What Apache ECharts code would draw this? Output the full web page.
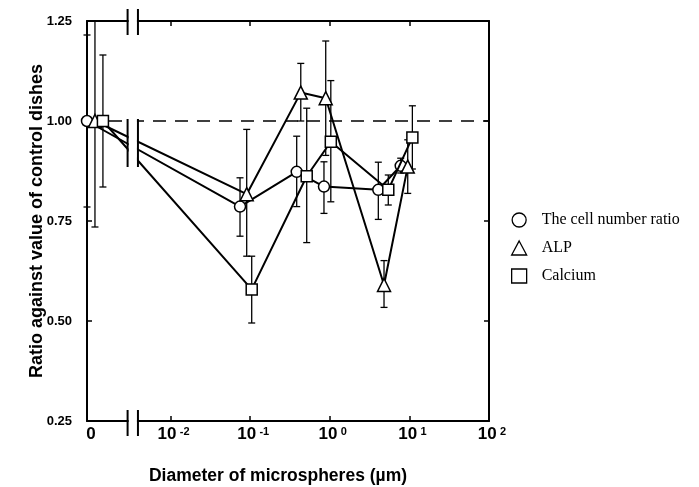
<!DOCTYPE html>
<html>
<head>
<meta charset="utf-8">
<script src="https://cdn.jsdelivr.net/npm/echarts@6/dist/echarts.min.js"></script>
<style>
html, body { margin: 0; padding: 0; background: #fff; }
#chart { width: 699px; height: 487px; }
</style>
</head>
<body>
<div id="chart"></div>
<script>
// Series names (legend order)
const seriesNames = ['The cell number ratio', 'ALP', 'Calcium'];

// Microsphere diameters (µm) at which each group is plotted; control (0 µm) is handled separately
const cellDiam = [0.0745, 0.384, 0.845, 4.07, 7.78];
const alpDiam  = [0.0904, 0.432, 0.889, 4.80, 9.53];
const caDiam   = [0.1045, 0.513, 1.03, 5.43, 10.9];

// Ratios against control dishes (first value = control), with error-bar limits
const cellMean = [1.00, 0.786, 0.873, 0.836, 0.828, 0.888];
const cellLow  = [0.785, 0.712, 0.786, 0.769, 0.754, 0.870];
const cellHigh = [1.215, 0.858, 0.962, 0.898, 0.897, 0.907];

const alpMean = [1.00, 0.817, 1.071, 1.057, 0.590, 0.886];
const alpLow  = [0.735, 0.662, 1.000, 0.914, 0.534, 0.819];
const alpHigh = [1.250, 0.979, 1.144, 1.200, 0.651, 0.953];

const caMean = [1.00, 0.579, 0.862, 0.948, 0.828, 0.959];
const caLow  = [0.835, 0.495, 0.696, 0.798, 0.790, 0.880];
const caHigh = [1.165, 0.662, 1.032, 1.101, 0.865, 1.038];

// Axis tick labels
const yTicks = [0.25, 0.50, 0.75, 1.00, 1.25];
const xExponents = [-2, -1, 0, 1, 2];
const CONTROL_POS = -3;          // axis position labelled "0"
const BREAK_LEFT = -2.54;        // axis break (log units)
const BREAK_RIGHT = -2.41;

const sansFont = '"Liberation Sans", Arial, sans-serif';
const serifFont = '"Liberation Serif", "Times New Roman", serif';

function buildPoints(diams, mean, ctrlOffset) {
  const pts = [[CONTROL_POS + ctrlOffset, mean[0]]];
  diams.forEach((d, i) => pts.push([Math.log10(d), mean[i + 1]]));
  return pts;
}
function buildBars(diams, low, high, ctrlOffset) {
  const bars = [[CONTROL_POS + ctrlOffset, low[0], high[0]]];
  diams.forEach((d, i) => bars.push([Math.log10(d), low[i + 1], high[i + 1]]));
  return bars;
}

const groups = [
  { name: seriesNames[0], symbol: 'circle',   size: 11, off: -0.05, diam: cellDiam, mean: cellMean, low: cellLow, high: cellHigh },
  { name: seriesNames[1], symbol: 'triangle', size: 13, off:  0.05, diam: alpDiam,  mean: alpMean,  low: alpLow,  high: alpHigh },
  { name: seriesNames[2], symbol: 'rect',     size: 11, off:  0.15, diam: caDiam,   mean: caMean,   low: caLow,   high: caHigh }
];

function errorBarItem(params, api) {
  const x = api.value(0);
  const pLo = api.coord([x, api.value(1)]);
  const pHi = api.coord([x, api.value(2)]);
  const half = 3.5;
  const style = { stroke: '#000', lineWidth: 1.3, fill: null };
  return {
    type: 'group',
    children: [
      { type: 'line', shape: { x1: pLo[0], y1: pLo[1], x2: pHi[0], y2: pHi[1] }, style },
      { type: 'line', shape: { x1: pLo[0] - half, y1: pLo[1], x2: pLo[0] + half, y2: pLo[1] }, style },
      { type: 'line', shape: { x1: pHi[0] - half, y1: pHi[1], x2: pHi[0] + half, y2: pHi[1] }, style }
    ]
  };
}

// Axis break: white gap across the plot plus the "||" marks on axes and curves
function breakItem(params, api) {
  const xa = api.coord([BREAK_LEFT, 1])[0];
  const xb = api.coord([BREAK_RIGHT, 1])[0];
  const yTop = api.coord([0, 1.25])[1];
  const yBot = api.coord([0, 0.25])[1];
  const yHi = api.coord([0, 1.005])[1];
  const yLo = api.coord([0, 0.885])[1];
  const s = { stroke: '#000', lineWidth: 2, fill: null };
  const mk = (x, y1, y2) => ({ type: 'line', shape: { x1: x, y1: y1, x2: x, y2: y2 }, style: s });
  return {
    type: 'group',
    children: [
      { type: 'rect', shape: { x: xa + 1, y: yTop - 3, width: xb - xa - 2, height: yBot - yTop + 6 },
        style: { fill: '#fff', stroke: null } },
      mk(xa, yTop - 12, yTop + 14), mk(xb, yTop - 12, yTop + 14),
      mk(xa, yBot - 11, yBot + 15), mk(xb, yBot - 11, yBot + 15),
      mk(xa, yHi, yLo), mk(xb, yHi, yLo)
    ]
  };
}

const series = [];
groups.forEach((g, i) => {
  series.push({
    name: 'err' + i,
    type: 'custom',
    renderItem: errorBarItem,
    data: buildBars(g.diam, g.low, g.high, g.off),
    encode: { x: 0, y: [1, 2] },
    z: 3,
    silent: true
  });
});
groups.forEach((g, i) => {
  const s = {
    name: g.name,
    type: 'line',
    data: buildPoints(g.diam, g.mean, g.off),
    symbol: g.symbol,
    symbolSize: g.size,
    showAllSymbol: true,
    clip: false,
    lineStyle: { color: '#000', width: 2 },
    itemStyle: { color: '#fff', borderColor: '#000', borderWidth: 1.5 },
    emphasis: { disabled: true },
    z: 5 + i
  };
  if (i === 0) {
    s.markLine = {
      silent: true,
      symbol: 'none',
      label: { show: false },
      lineStyle: { color: '#000', width: 1.5, type: [13, 9] },
      data: [{ yAxis: 1.0 }]
    };
  }
  series.push(s);
});
series.push({
  name: 'axisBreak',
  type: 'custom',
  renderItem: breakItem,
  data: [[0, 1]],
  clip: false,
  silent: true,
  z: 20
});

const chart = echarts.init(document.getElementById('chart'), null, { renderer: 'canvas' });

const axisLineStyle = { color: '#000', width: 2 };
const xCommon = {
  type: 'value',
  min: -3.05,
  max: 2,
  splitLine: { show: false },
  axisLine: { show: true, onZero: false, lineStyle: axisLineStyle }
};

chart.setOption({
  animation: false,
  backgroundColor: '#fff',
  grid: { left: 87, right: 210, top: 21, bottom: 66, containLabel: false },
  xAxis: [
    Object.assign({}, xCommon, {
      position: 'bottom',
      axisTick: { show: true, inside: true, length: 5, customValues: xExponents, lineStyle: { color: '#000', width: 1.5 } },
      axisLabel: {
        customValues: [CONTROL_POS].concat(xExponents),
        margin: 5,
        formatter: v => (Math.abs(v - CONTROL_POS) < 1e-9 ? '{n|0}' : '{sp|}{n|10} {e|' + v + '}'),
        rich: {
          sp: { width: 6 },
          n: { fontFamily: sansFont, fontWeight: 'bold', fontSize: 17, color: '#000' },
          e: { fontFamily: sansFont, fontWeight: 'bold', fontSize: 11, color: '#000', verticalAlign: 'top' }
        }
      }
    }),
    Object.assign({}, xCommon, {
      position: 'top',
      axisTick: { show: true, inside: true, length: 5, customValues: xExponents, lineStyle: { color: '#000', width: 1.5 } },
      axisLabel: { show: false }
    })
  ],
  yAxis: [
    {
      type: 'value', position: 'left', min: yTicks[0], max: yTicks[yTicks.length - 1], interval: 0.25,
      splitLine: { show: false },
      axisLine: { show: true, onZero: false, lineStyle: axisLineStyle },
      axisTick: { show: true, inside: true, length: 5, lineStyle: { color: '#000', width: 1.5 } },
      axisLabel: {
        margin: 15,
        formatter: v => v.toFixed(2),
        fontFamily: sansFont, fontWeight: 'bold', fontSize: 13, color: '#000'
      }
    },
    {
      type: 'value', position: 'right', min: yTicks[0], max: yTicks[yTicks.length - 1], interval: 0.25,
      splitLine: { show: false },
      axisLine: { show: true, onZero: false, lineStyle: axisLineStyle },
      axisTick: { show: true, inside: true, length: 5, lineStyle: { color: '#000', width: 1.5 } },
      axisLabel: { show: false }
    }
  ],
  legend: {
    orient: 'vertical',
    left: 506,
    top: 207,
    itemWidth: 15,
    itemHeight: 14,
    itemGap: 12,
    selectedMode: false,
    itemStyle: { color: '#fff', borderColor: '#000', borderWidth: 1.3 },
    textStyle: { fontFamily: serifFont, fontSize: 16, color: '#000', lineHeight: 14, padding: [0, 0, 0, 10] },
    data: [
      { name: seriesNames[0], icon: 'circle' },
      { name: seriesNames[1], icon: 'triangle' },
      { name: seriesNames[2], icon: 'rect' }
    ]
  },
  graphic: [
    {
      type: 'text',
      x: 37, y: 221,
      rotation: Math.PI / 2,
      style: {
        text: 'Ratio against value of control dishes',
        fontFamily: sansFont, fontWeight: 'bold', fontSize: 18, fill: '#000',
        align: 'center', verticalAlign: 'middle'
      }
    },
    {
      type: 'text',
      x: 278, y: 476,
      style: {
        text: 'Diameter of microspheres (µm)',
        fontFamily: sansFont, fontWeight: 'bold', fontSize: 17.5, fill: '#000',
        align: 'center', verticalAlign: 'middle'
      }
    }
  ],
  series: series
});
</script>
</body>
</html>
